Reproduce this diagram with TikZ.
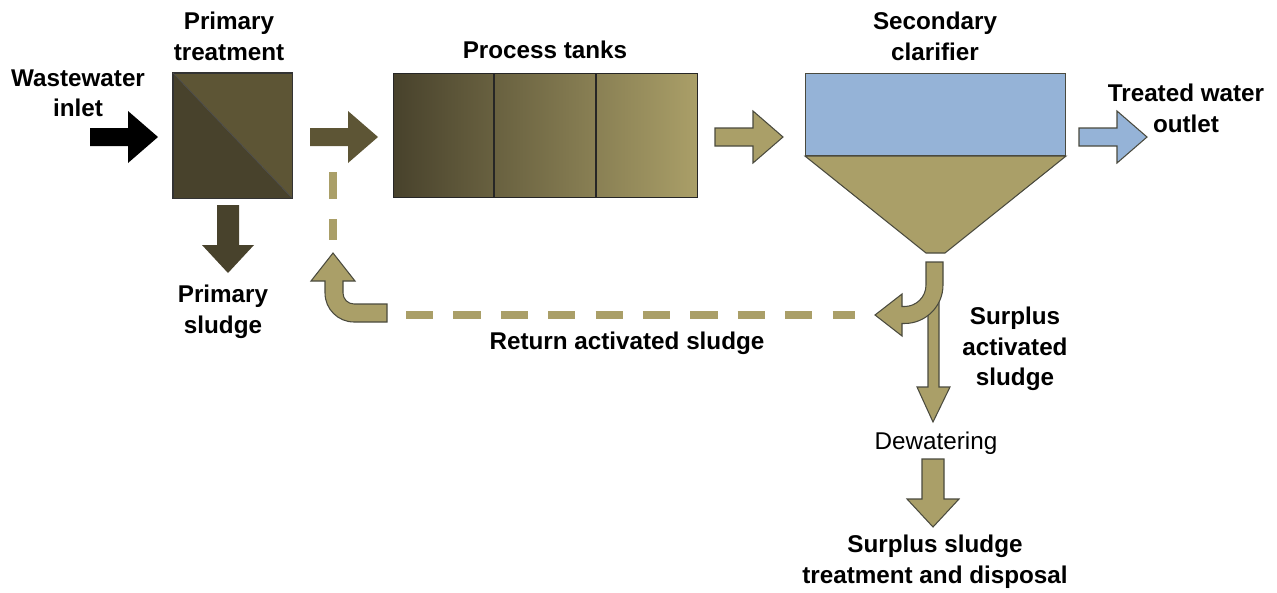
\documentclass[tikz,border=0pt]{standalone}
\usepackage{fontspec}
\setmainfont{Liberation Sans}
\usetikzlibrary{positioning}

\definecolor{sludgedark}{HTML}{48422C}
\definecolor{sludgemid}{HTML}{5D5535}
\definecolor{sludgetan}{HTML}{AA9F68}
\definecolor{waterblue}{HTML}{95B3D7}
\definecolor{edgegrey}{HTML}{4A4A3E}

\tikzset{
  lbl/.style={font=\bfseries\fontsize{13.8}{17.2}\selectfont, align=center, inner sep=0pt, anchor=north},
  plainlbl/.style={lbl, font=\fontsize{13.8}{17.2}\selectfont},
  rarrow/.pic={\path[pic actions] (0,-9) -- (38,-9) -- (38,-26) -- (68,0) -- (38,26) -- (38,9) -- (0,9) -- cycle;},
  darrow/.pic={\path[pic actions] (-11,0) -- (-11,40) -- (-26,40) -- (0,68) -- (26,40) -- (11,40) -- (11,0) -- cycle;},
  outline/.style={draw=edgegrey, line width=0.6pt},
  returnline/.style={draw=sludgetan, line width=0.16cm, dash pattern=on 0.545cm off 0.403cm}
}

\begin{document}
\begin{tikzpicture}[x=0.02cm, y=-0.02cm]
\useasboundingbox (0,0) rectangle (1277,592);

% primary treatment
\node[draw=black!80, line width=0.6pt, minimum width=2.36cm, minimum height=2.48cm, inner sep=0pt, anchor=north west] (primary) at (173,73) {};
\fill[sludgemid] (primary.north west) -- (primary.north east) -- (primary.south east) -- cycle;
\fill[sludgedark] (primary.north west) -- (primary.south west) -- (primary.south east) -- cycle;
\draw[black!80, line width=0.6pt] (primary.north west) rectangle (primary.south east);
\draw[black!70, line width=0.4pt] (primary.north west) -- (primary.south east);

% process tanks
\node[draw=black!85, line width=0.8pt, left color=sludgedark, right color=sludgetan, minimum width=6.08cm, minimum height=2.48cm, inner sep=0pt, anchor=north west] (tanks) at (393,73) {};
\draw[black!85, line width=0.8pt] (494,73) -- (494,197) (596,73) -- (596,197);

% secondary clarifier
\node[outline, fill=waterblue, minimum width=5.2cm, minimum height=1.64cm, inner sep=0pt, anchor=north west] (clarifier) at (805,73) {};
\filldraw[outline, fill=sludgetan] (clarifier.south west) -- (clarifier.south east) -- (945,253) -- (926,253) -- cycle;

% block arrows
\pic[fill=black] at (90,137) {rarrow};
\pic[fill=sludgemid] at (310,137) {rarrow};
\pic[fill=sludgetan, outline] at (715,137) {rarrow};
\pic[fill=waterblue, outline] at (1079,137) {rarrow};
\pic[fill=sludgedark] at (228,205) {darrow};
\pic[fill=sludgetan, outline] at (933,459) {darrow};

% surplus branch and return branch
\filldraw[outline, fill=sludgetan] (928,280) -- (939,280) -- (939,387) -- (950,387) -- (933,422) -- (917,387) -- (928,387) -- cycle;
\filldraw[outline, fill=sludgetan] (926,262) -- (943,262) -- (943,285) arc[start angle=0, end angle=90, radius=38.5]
  -- (902,323.5) -- (902,336) -- (875,315) -- (902,294) -- (902,306.5) -- (904.5,306.5)
  arc[start angle=90, end angle=0, radius=21.5] -- cycle;
\filldraw[outline, fill=sludgetan] (387,304) -- (354,304) arc[start angle=90, end angle=180, radius=11]
  -- (343,281) -- (355,281) -- (333,253) -- (311,281) -- (325,281) -- (325,293)
  arc[start angle=180, end angle=90, radius=29] -- (387,322) -- cycle;

\coordinate (retA) at (855,315);
\coordinate (retB) at (406,315);
\coordinate (upA) at (333,240);
\coordinate (upB) at (333,172);
\draw[returnline] (retB) -- (retA);
\draw[returnline] (upB) -- (upA);

% labels
\node[lbl] (inletlbl) at (78,69) {Wastewater\\inlet};
\node[lbl] (primarylbl) at (229,12) {Primary\\treatment};
\node[lbl] (tankslbl) at (545,41) {Process tanks};
\node[lbl] (clarifierlbl) at (935,12) {Secondary\\clarifier};
\node[lbl] (outletlbl) at (1186,84) {Treated water\\outlet};
\node[lbl] (primarysludge) at (223,285) {Primary\\sludge};
\node[lbl] (returnlbl) at (627,332) {Return activated sludge};
\node[lbl] (surpluslbl) at (1015,307) {Surplus\\activated\\sludge};
\node[plainlbl] (dewaterlbl) at (936,432) {Dewatering};
\node[lbl] (disposallbl) at (935,535) {Surplus sludge\\treatment and disposal};
\end{tikzpicture}
\end{document}
